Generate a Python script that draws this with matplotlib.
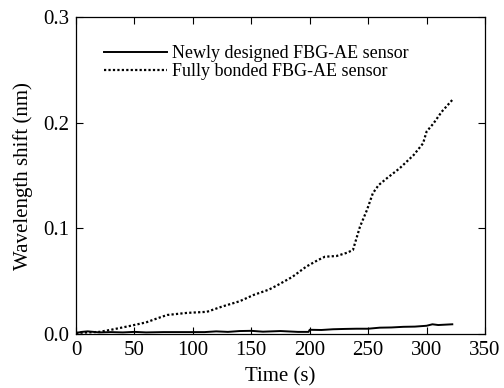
import matplotlib
matplotlib.use("Agg")
import matplotlib.pyplot as plt

plt.rcParams['font.family'] = ['Liberation Serif', 'DejaVu Serif']
plt.rcParams['mathtext.fontset'] = 'stix'

# Fully bonded FBG-AE sensor (dotted)
t_bonded = [0, 10, 20, 30, 46, 60, 70, 78, 95, 112, 125, 140, 152, 165, 172, 185, 197,
            207, 213, 223, 232, 237, 243, 249, 254, 259, 266, 277, 289, 297, 300, 306, 313, 322]
w_bonded = [0.001, 0.0015, 0.002, 0.004, 0.0076, 0.011, 0.015, 0.018, 0.020, 0.021, 0.026,
            0.031, 0.037, 0.042, 0.046, 0.054, 0.0638, 0.070, 0.0732, 0.0739, 0.077, 0.0796,
            0.1016, 0.1175, 0.1333, 0.1411, 0.1475, 0.157, 0.1696, 0.1806, 0.1917, 0.1996,
            0.2106, 0.2217]

# Newly designed FBG-AE sensor (solid)
t_new = [0, 5, 10, 15, 20, 30, 40, 50, 60, 75, 90, 110, 120, 130, 140, 150, 160, 175,
         190, 199, 200, 210, 220, 230, 240, 250, 260, 270, 280, 290, 300, 305, 310, 322]
w_new = [0.001, 0.002, 0.0025, 0.002, 0.0015, 0.0018, 0.0015, 0.002, 0.0015, 0.0018, 0.0018,
         0.0018, 0.0025, 0.002, 0.0028, 0.003, 0.0022, 0.0028, 0.002, 0.002, 0.004, 0.0038,
         0.0045, 0.0048, 0.005, 0.005, 0.006, 0.0062, 0.0068, 0.007, 0.0078, 0.0092, 0.0085,
         0.0092]

x_ticks = [0, 50, 100, 150, 200, 250, 300, 350]
y_ticks = [0.0, 0.1, 0.2, 0.3]

fig = plt.figure(figsize=(5.04, 3.88), dpi=100)
ax = fig.add_axes([76/504, 1 - 334/388, (485-76)/504, (334-17.3)/388])

ax.plot(t_new, w_new, color='black', lw=1.4, label='Newly designed FBG-AE sensor')
ax.plot(t_bonded, w_bonded, color='black', lw=1.6, linestyle=(0, (1, 1)),
        label='Fully bonded FBG-AE sensor')

ax.set_xlim(0, 350)
ax.set_ylim(0, 0.3)
ax.set_xticks(x_ticks)
ax.set_yticks(y_ticks)
ax.set_xticklabels([str(v) for v in x_ticks])
ax.set_yticklabels(['%.1f' % v for v in y_ticks])
ax.tick_params(direction='in', top=True, right=True, labelsize=15, length=5, width=0.8, pad=5)
for s in ax.spines.values():
    s.set_linewidth(0.9)

ax.set_xlabel('Time (s)', fontsize=15, labelpad=5)
ax.set_ylabel('Wavelength shift (nm)', fontsize=15, labelpad=7)

ax.legend(loc='upper left', frameon=False, fontsize=13, handlelength=3.5,
          handletextpad=0.3, labelspacing=0.05, borderaxespad=0.0,
          bbox_to_anchor=(0.05, 0.935))

fig.savefig('out.png', dpi=100)
